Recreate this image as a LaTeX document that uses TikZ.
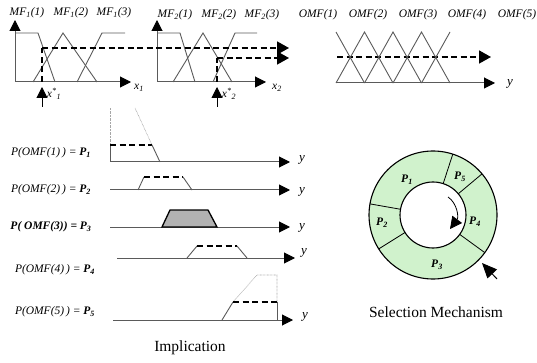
\documentclass[tikz,border=0pt]{standalone}
\usepackage{fontspec}
\setmainfont{Liberation Serif}
\usetikzlibrary{arrows.meta}
\definecolor{wheelgreen}{RGB}{208,242,204}
\definecolor{mfgray}{RGB}{90,90,90}

\begin{document}
\begin{tikzpicture}[x=1pt,y=-1pt,
	axis/.style={draw=mfgray,line width=1pt,-{Triangle[length=11pt,width=11pt,color=black]}},
	mf/.style={draw=mfgray,line width=0.9pt},
	cut/.style={draw=black,line width=1.7pt,dash pattern=on 6pt off 3.5pt},
	cutarrow/.style={cut,-{Triangle[length=12pt,width=13pt,color=black]}},
	ghost/.style={draw=gray!70,line width=0.6pt,dash pattern=on 0.7pt off 0.7pt},
	lbl/.style={font=\fontsize{11.5}{13}\selectfont\itshape,inner sep=0pt},
	plbl/.style={font=\fontsize{11.5}{13}\selectfont\itshape,inner sep=0pt},
	caption/.style={font=\fontsize{15.5}{18}\selectfont,inner sep=0pt}]

	\useasboundingbox (0,0) rectangle (537,363);

	% input fuzzy sets
	\coordinate (oa) at (15,82);
	\coordinate (ta) at (15,20);
	\coordinate (ea) at (131,82);
	\coordinate (ob) at (157,82);
	\coordinate (tb) at (157,20);
	\coordinate (eb) at (266,82);
	\draw[axis] (oa) -- (ta);
	\draw[axis] (oa) -- (ea);
	\draw[axis] (ob) -- (tb);
	\draw[axis] (ob) -- (eb);

	\draw[mf] (15,33) -- (38,33) -- (55,82);
	\draw[mf] (33,82) -- (63,33) -- (97,82);
	\draw[mf] (77,82) -- (102,33) -- (125,33);
	\draw[mf] (157,33) -- (180,33) -- (195,82);
	\draw[mf] (173,82) -- (203,33) -- (232,82);
	\draw[mf] (213,82) -- (235,33) -- (257,33);

	\foreach \k / \x in {1/27, 2/71, 3/114}
	{
		\node[lbl] (mfa\k) at (\x,13) {MF\textsubscript{1}(\k)};
	};
	\foreach \k / \x in {1/175, 2/219, 3/262}
	{
		\node[lbl] (mfb\k) at (\x,15) {MF\textsubscript{2}(\k)};
	};
	\node[lbl] (xa) at (139,88) {x\textsubscript{1}};
	\node[lbl] (xb) at (277,88) {x\textsubscript{2}};

	% crisp inputs
	\coordinate (sa) at (42,82);
	\coordinate (ca) at (42,48);
	\coordinate (fa) at (289,48);
	\coordinate (sb) at (217,82);
	\coordinate (cb) at (217,58);
	\coordinate (fb) at (289,58);
	\draw[cut] (sa) -- (ca);
	\draw[cutarrow] (ca) -- (fa);
	\draw[cut] (sb) -- (cb);
	\draw[cutarrow] (cb) -- (fb);

	\coordinate (pa) at (42,107);
	\coordinate (qa) at (42,87);
	\coordinate (pb) at (217,107);
	\coordinate (qb) at (217,87);
	\draw[line width=1pt,-{Triangle[length=11pt,width=11pt]}] (pa) -- (qa);
	\draw[line width=1pt,-{Triangle[length=11pt,width=11pt]}] (pb) -- (qb);
	\node[lbl] (xsa) at (54,94) {x\textsuperscript{*}\textsubscript{1}};
	\node[lbl] (xsb) at (229,94) {x\textsuperscript{*}\textsubscript{2}};

	% output fuzzy sets
	\coordinate (oc) at (336,83);
	\coordinate (ec) at (495,83);
	\coordinate (dc) at (337,57);
	\coordinate (fc) at (491,57);
	\draw[axis] (oc) -- (ec);
	\draw[cutarrow] (dc) -- (fc);
	\draw[mf] (336,32) -- (364.5,83);
	\foreach \c in {364.5, 393, 421.5}
	{
		\draw[mf] (\c-28.5,83) -- (\c,32) -- (\c+28.5,83);
	};
	\draw[mf] (421.5,83) -- (450,32);
	\foreach \k / \x in {1/318, 2/368, 3/418, 4/467, 5/517}
	{
		\node[lbl] (omf\k) at (\x,15) {OMF(\k)};
	};
	\node[lbl,font=\fontsize{13}{15}\selectfont\itshape] (yc) at (510,84) {y};

	% implication
	\foreach \k / \y / \x / \e in {1/162/110/290, 2/190/110/290, 3/227/110/290, 4/258/117/295, 5/320/113/293}
	{
		\coordinate (ra\k) at (\x,\y);
		\coordinate (rb\k) at (\e,\y);
		\draw[axis] (ra\k) -- (rb\k);
	};
	\foreach \k / \x / \y in {1/302/160, 2/302/192, 3/302/228, 4/304/253, 5/305/317}
	{
		\node[lbl,font=\fontsize{13}{15}\selectfont\itshape] (yr\k) at (\x,\y) {y};
	};

	\node[plbl] (pr1) at (51,153) {P(OMF(1)\,) = \textbf{P\textsubscript{1}}};
	\node[plbl] (pr2) at (51,190) {P(OMF(2)\,) = \textbf{P\textsubscript{2}}};
	\node[plbl,font=\fontsize{11.5}{13}\selectfont\bfseries\itshape] (pr3) at (51,227) {P( OMF(3)) = P\textsubscript{3}};
	\node[plbl] (pr4) at (55,270) {P(OMF(4)\,) = \textbf{P\textsubscript{4}}};
	\node[plbl] (pr5) at (55,312) {P(OMF(5)\,) = \textbf{P\textsubscript{5}}};

	\draw[ghost] (110,145) -- (110,108);
	\draw[ghost] (152,145) -- (135,108);
	\draw[mf] (110,162) -- (110,145);
	\draw[cut] (110,145) -- (152,145);
	\draw[mf] (152,145) -- (160,162);

	\draw[mf] (138,190) -- (144,177);
	\draw[cut] (144,177) -- (183,177);
	\draw[mf] (183,177) -- (192,190);

	\filldraw[fill=gray!60,draw=black,line width=1.3pt] (162,227) -- (170,210) -- (208,210) -- (217,227) -- cycle;

	\draw[mf] (187,258) -- (197,246);
	\draw[cut] (197,246) -- (237,246);
	\draw[mf] (237,246) -- (247,258);

	\draw[ghost] (233,302) -- (257,275) -- (277,275) -- (277,302);
	\draw[mf] (222,320) -- (233,302);
	\draw[cut] (233,302) -- (277,302);
	\draw[mf] (277,302) -- (277,320);

	\node[caption] (impl) at (190,348) {Implication};

	% roulette wheel
	\begin{scope}[shift={(433,215)},y=1pt]
		\coordinate (hub) at (0,0);
		\filldraw[fill=wheelgreen,draw=black,line width=1.1pt,even odd rule] (hub) circle (64) (hub) circle (33);
		\foreach \a in {72, 40, -36, -148, 170}
		{
			\draw[line width=0.8pt] (\a:33) -- (\a:64);
		};
	\end{scope}
	\foreach \k / \x / \y in {1/407/180, 2/382/223, 3/437/265, 4/475/222, 5/460/177}
	{
		\node[plbl,font=\fontsize{11.5}{13}\selectfont\bfseries\itshape] (pw\k) at (\x,\y) {P\textsubscript{\k}};
	};
	\coordinate (spina) at (448,197);
	\coordinate (spinb) at (450,229);
	\draw[line width=0.8pt,-{Triangle[length=12pt,width=12pt]}] (spina) .. controls (457,203) and (459,217) .. (spinb);
	\coordinate (ptra) at (497,279);
	\coordinate (ptrb) at (482,263);
	\draw[line width=1pt,-{Triangle[length=15pt,width=13pt]}] (ptra) -- (ptrb);
	\node[caption] (sel) at (436,312) {Selection Mechanism};

\end{tikzpicture}
\end{document}
